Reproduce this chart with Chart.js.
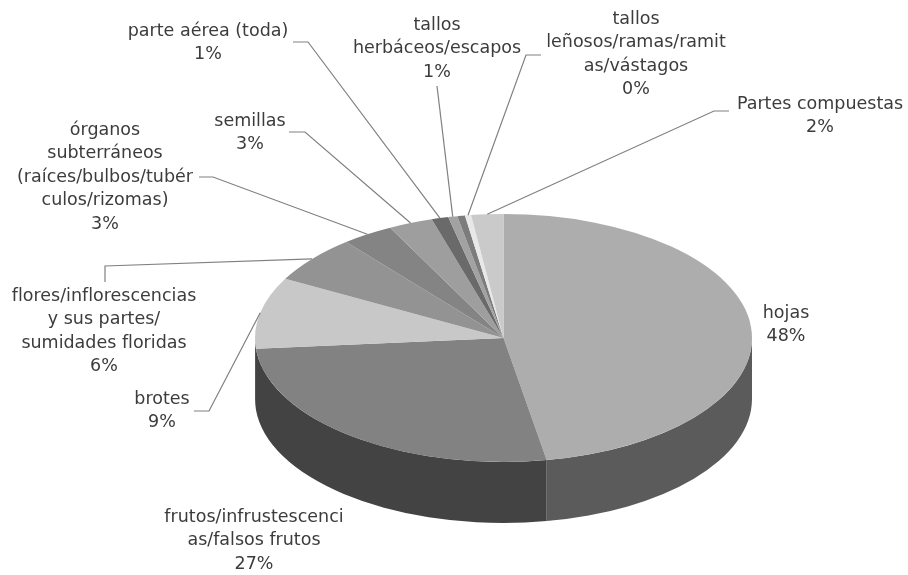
<!DOCTYPE html>
<html lang="es">
<head>
<meta charset="utf-8">
<title>Partes de la planta</title>
<style>
  html, body { margin: 0; padding: 0; background: #fff; }
  #grafico { display: block; width: 908px; height: 575px; }
  /* el original es una imagen algo borrosa */
  #chartPartes { filter: blur(0.5px); }
</style>
<script src="https://cdn.jsdelivr.net/npm/chart.js@4"></script>
</head>
<body>
<div id="grafico"><canvas id="chartPartes" width="908" height="575"></canvas></div>
<script>
// --- Datos -----------------------------------------------------------------
const categorias = [
  'hojas', 'frutos', 'brotes', 'flores', 'órganos subterráneos', 'semillas',
  'parte aérea', 'tallos herbáceos', 'sin etiqueta', 'tallos leñosos', 'Partes compuestas',
];
// Redondeados dan los % rotulados.
const valores = [47.6, 26.6, 9.4, 6.2, 3.4, 2.9, 1.1, 0.6, 0.5, 0.4, 2.1];
const etiquetas = [
  ['hojas'],
  ['frutos/infrustescenci', 'as/falsos frutos'],
  ['brotes'],
  ['flores/inflorescencias', 'y sus partes/', 'sumidades floridas'],
  ['órganos', 'subterráneos', '(raíces/bulbos/tubér', 'culos/rizomas)'],
  ['semillas'],
  ['parte aérea (toda)'],
  ['tallos', 'herbáceos/escapos'],
  null, // esta porción no lleva rótulo en el original
  ['tallos', 'leñosos/ramas/ramit', 'as/vástagos'],
  ['Partes compuestas'],
];

// --- Estilos y posiciones --------------------------------------------------
const coloresTapa = ['#adadad', '#828282', '#c8c8c8', '#939393', '#848484', '#9e9e9e', '#6a6a6a', '#a2a2a2', '#7c7c7c', '#e8e8e8', '#cacaca'];
const coloresPared = ['#5b5b5b', '#434343', '#4c4c4c', '#444', '#444', '#444', '#444', '#444', '#444', '#444', '#444'];
const CENTRO_X = 503.5, CENTRO_Y = 338, RADIO = 248.5;
const ACHATADO = 0.499;
const GROSOR = 61;
const ALTO_LINEA = 23.5;

// x centrada e y de la primera línea de cada rótulo
const posEtiquetas = [
  [786, 313], [254, 517], [162, 399], [104, 296], [105, 130], [250, 121],
  [208, 31], [437, 25], null, [636, 19], [820, 104],
];
// Tramos de la guía, desde el rótulo hasta antes de tocar el borde de la tapa
const guias = [
  null, null,
  [[194, 411], [209, 411]],
  [[105, 282], [105, 266]],
  [[199, 177], [213, 177]],
  [[289, 132], [305, 132]],
  [[293, 42], [308, 42]],
  [[437, 86]],
  null,
  [[541, 55], [526, 55]],
  [[729, 111], [714, 111]],
];

// --- Plugin: pared lateral, achatado de la tapa y rótulos ------------------
const pastel3d = {
  id: 'pastel3d',
  beforeDatasetsDraw(chart) {
    const { ctx } = chart;
    const arcos = chart.getDatasetMeta(0).data;
    arcos.forEach((arc, i) => {
      // Solo se ve la mitad delantera (0..PI en el canvas)
      const a0 = Math.max(arc.startAngle, 0);
      const a1 = Math.min(arc.endAngle, Math.PI);
      if (a1 <= a0) return;
      const rx = arc.outerRadius, ry = rx * ACHATADO;
      ctx.beginPath();
      ctx.ellipse(arc.x, arc.y, rx, ry, 0, a0, a1);
      ctx.ellipse(arc.x, arc.y + GROSOR, rx, ry, 0, a1, a0, true);
      ctx.closePath();
      ctx.fillStyle = coloresPared[i];
      ctx.fill();
    });
    ctx.save();
    const cy = arcos[0].y;
    ctx.translate(0, cy);
    ctx.scale(1, ACHATADO);
    ctx.translate(0, -cy);
  },
  afterDatasetsDraw(chart) {
    const { ctx } = chart;
    ctx.restore();
    const arcos = chart.getDatasetMeta(0).data;

    ctx.strokeStyle = '#808080';
    ctx.lineWidth = 1.2;
    guias.forEach((tramo, i) => {
      if (!tramo) return;
      const arc = arcos[i];
      const medio = (arc.startAngle + arc.endAngle) / 2;
      ctx.beginPath();
      tramo.forEach(([x, y], k) => (k ? ctx.lineTo(x, y) : ctx.moveTo(x, y)));
      ctx.lineTo(arc.x + arc.outerRadius * Math.cos(medio),
                 arc.y + arc.outerRadius * ACHATADO * Math.sin(medio));
      ctx.stroke();
    });

    ctx.fillStyle = '#3c3c3c';
    ctx.font = '17.5px "DejaVu Sans"';
    ctx.textAlign = 'center';
    ctx.textBaseline = 'middle';
    etiquetas.forEach((lineas, i) => {
      if (!lineas) return;
      const [x, y] = posEtiquetas[i];
      [...lineas, `${Math.round(valores[i])}%`].forEach((t, k) => {
        ctx.fillText(t, x, y + k * ALTO_LINEA);
      });
    });
  },
};

new Chart(document.getElementById('chartPartes'), {
  type: 'pie',
  data: {
    labels: categorias,
    datasets: [{ data: valores, backgroundColor: coloresTapa, borderWidth: 0, clip: false }],
  },
  options: {
    responsive: false,
    animation: false,
    radius: RADIO,
    layout: { padding: { left: CENTRO_X * 2 - 908, top: CENTRO_Y * 2 - 575 } },
    plugins: { legend: { display: false }, tooltip: { enabled: false } },
  },
  plugins: [pastel3d],
});
</script>
</body>
</html>
